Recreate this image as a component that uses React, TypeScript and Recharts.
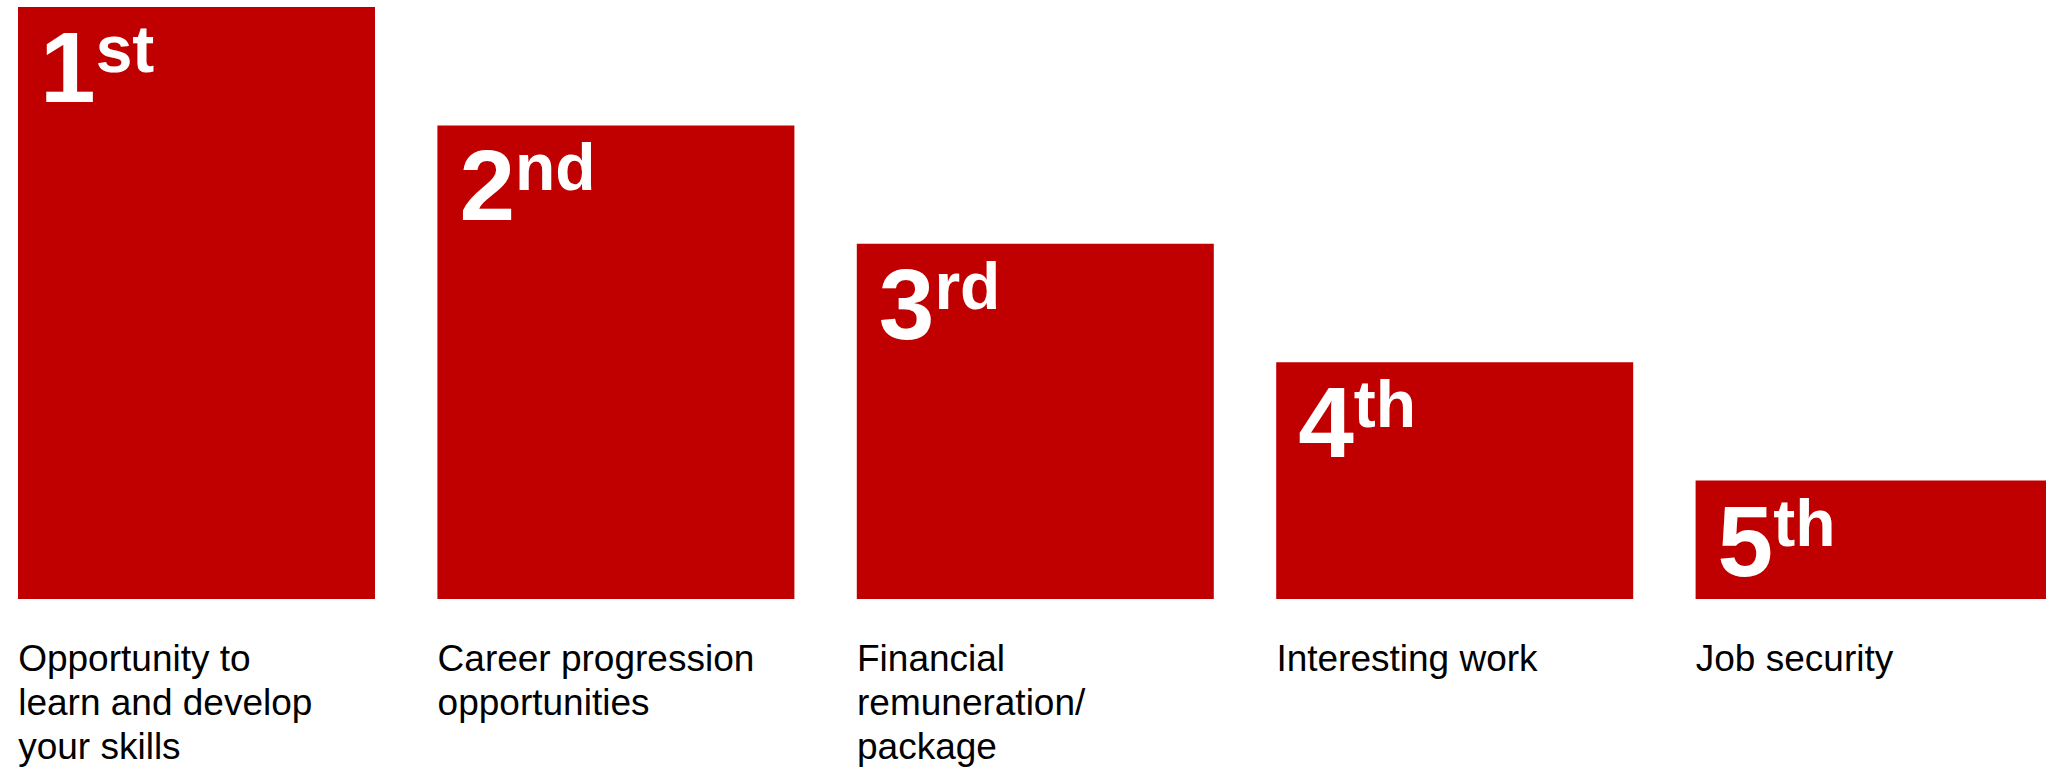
import React from "react";
import { BarChart, Bar, XAxis, YAxis, LabelList } from "recharts";

const categories = [
  "Opportunity to learn and develop your skills",
  "Career progression opportunities",
  "Financial remuneration/ package",
  "Interesting work",
  "Job security",
];
const categoryLines = [
  ["Opportunity to", "learn and develop", "your skills"],
  ["Career progression", "opportunities"],
  ["Financial", "remuneration/", "package"],
  ["Interesting work"],
  ["Job security"],
];
const scores = [5, 4, 3, 2, 1];
const rankNumbers = ["1", "2", "3", "4", "5"];
const rankSuffixes = ["st", "nd", "rd", "th", "th"];

const data = categories.map((c, i) => ({ name: c, score: scores[i], idx: i }));

const RED = "#C00000";
const FONT = "'Liberation Sans', Arial, Helvetica, sans-serif";
const BAR_SIZE = 357;

const CategoryTick = (props: any) => {
  const { x, y, index } = props;
  const lines = categoryLines[index] || [];
  const left = x - BAR_SIZE / 2;
  return (
    <text x={left} y={y + 72} fill="#000" fontFamily={FONT} fontSize={37} textAnchor="start">
      {lines.map((l, i) => (
        <tspan key={i} x={left} dy={i === 0 ? 0 : 44}>
          {l}
        </tspan>
      ))}
    </text>
  );
};

const RankLabel = (props: any) => {
  const { x, y, index } = props;
  return (
    <text x={x + 22} y={y + 95} fill="#fff" fontFamily={FONT} fontWeight="bold" textAnchor="start">
      <tspan fontSize={100}>{rankNumbers[index]}</tspan>
      <tspan fontSize={66} dy={-30}>{rankSuffixes[index]}</tspan>
    </text>
  );
};

export default function App() {
  return (
    <div
      style={{
        position: "absolute",
        left: 0,
        top: 0,
        width: 2046,
        height: 769,
        overflow: "hidden",
        background: "#fff",
      }}
    >
      <div style={{ marginLeft: -13 }}>
        <BarChart
          width={2097}
          height={769}
          data={data}
          margin={{ top: 7, right: 0, bottom: 140, left: 0 }}
          barSize={BAR_SIZE}
        >
          <XAxis
            dataKey="name"
            height={30}
            axisLine={false}
            tickLine={false}
            tickSize={0}
            tickMargin={0}
            interval={0}
            padding={{ left: 0, right: 0 }}
            tick={<CategoryTick />}
          />
          <YAxis hide width={0} domain={[0, 5]} />
          <Bar dataKey="score" fill={RED} isAnimationActive={false}>
            <LabelList dataKey="score" content={<RankLabel />} />
          </Bar>
        </BarChart>
      </div>
    </div>
  );
}
